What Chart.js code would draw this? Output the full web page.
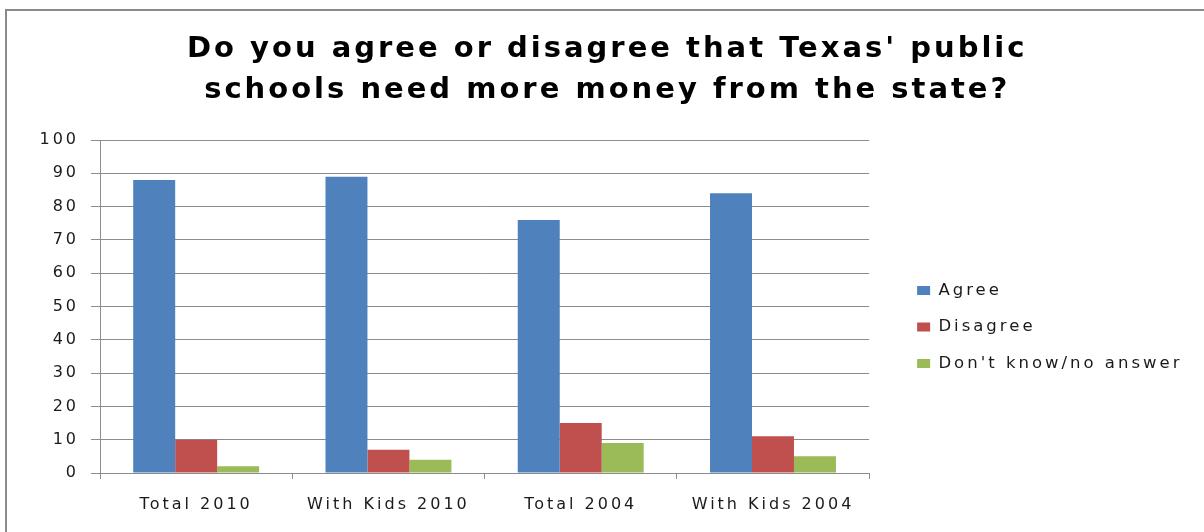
<!DOCTYPE html>
<html>
<head>
<meta charset="utf-8">
<script src="https://cdn.jsdelivr.net/npm/chart.js@4/dist/chart.umd.min.js"></script>
<style>
  html, body { margin: 0; padding: 0; background: #fff; overflow: hidden; }
  #wrap { position: relative; width: 1204px; height: 532px; overflow: hidden; }
  #frame { position: absolute; left: 5px; top: 9px; width: 1300px; height: 700px; border: 2px solid #8a8a8a; box-sizing: border-box; }
  #c { position: absolute; left: 0; top: 0; }
</style>
</head>
<body>
<div id="wrap">
  <div id="frame"></div>
  <canvas id="c" width="1204" height="532"></canvas>
</div>
<script>
const titleLines = ["Do you agree or disagree that Texas' public", "schools need more money from the state?"];
const categories = ["Total 2010", "With Kids 2010", "Total 2004", "With Kids 2004"];
const seriesNames = ["Agree", "Disagree", "Don't know/no answer"];
const agree = [88, 89, 76, 84];
const disagree = [10, 7, 15, 11];
const dontKnow = [2, 4, 9, 5];
const yMin = 0, yMax = 100, yStep = 10;

const colors = ["#4F81BD", "#C0504D", "#9BBB59"];
const SPACING = '3px';

const spacingPlugin = {
  id: 'spacing',
  beforeInit(c) { c.ctx.letterSpacing = SPACING; },
  beforeUpdate(c) { c.ctx.letterSpacing = SPACING; },
  beforeLayout(c) { c.ctx.letterSpacing = SPACING; },
  beforeDraw(c) { c.ctx.letterSpacing = SPACING; }
};

const FONT = "'DejaVu Sans', Verdana, sans-serif";

new Chart(document.getElementById('c'), {
  type: 'bar',
  data: {
    labels: categories,
    datasets: [
      { label: seriesNames[0], data: agree, backgroundColor: colors[0], borderWidth: 0 },
      { label: seriesNames[1], data: disagree, backgroundColor: colors[1], borderWidth: 0 },
      { label: seriesNames[2], data: dontKnow, backgroundColor: colors[2], borderWidth: 0 }
    ]
  },
  plugins: [spacingPlugin],
  options: {
    responsive: false,
    animation: false,
    events: [],
    layout: { padding: { top: 0, left: 27.5, right: 17, bottom: 1.8 } },
    datasets: { bar: { categoryPercentage: 0.655, barPercentage: 1.0 } },
    scales: {
      x: {
        grid: { display: true, drawOnChartArea: false, drawTicks: true, tickLength: 6, color: '#8c8c8c', offset: true },
        border: { display: true, color: '#8c8c8c', width: 1 },
        ticks: { font: { family: FONT, size: 16 }, color: '#1a1a1a', padding: 16, maxRotation: 0 }
      },
      y: {
        min: yMin, max: yMax,
        grid: { display: true, drawOnChartArea: true, drawTicks: true, tickLength: 9, color: '#8c8c8c' },
        border: { display: true, color: '#8c8c8c', width: 1 },
        ticks: { stepSize: yStep, font: { family: FONT, size: 16 }, color: '#1a1a1a', padding: 12 }
      },
      gap: {
        position: 'right',
        display: false,
        afterFit(s) { s.width = 28; }
      }
    },
    plugins: {
      title: {
        display: true,
        text: titleLines,
        color: '#000',
        font: { family: FONT, size: 29, weight: 'bold', lineHeight: 1.414 },
        padding: { top: 29, bottom: 29 }
      },
      legend: {
        display: true,
        position: 'right',
        fullSize: false,
        align: 'center',
        title: { display: true, text: '', font: { size: 1, lineHeight: 1 }, padding: { top: 40, bottom: 0 } },
        labels: {
          boxWidth: 13, boxHeight: 9, padding: 20,
          font: { family: FONT, size: 16.5 }, color: '#1a1a1a'
        }
      },
      tooltip: { enabled: false }
    }
  }
});
</script>
</body>
</html>
